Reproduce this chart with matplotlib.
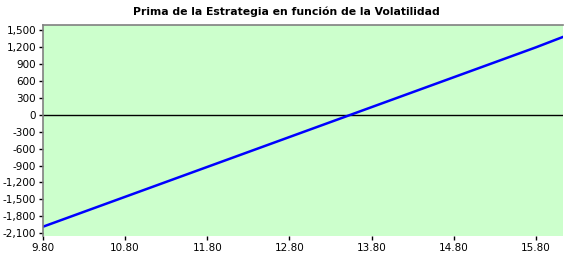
import matplotlib
matplotlib.use("Agg")
import matplotlib.pyplot as plt
import numpy as np

# volatility vs strategy premium
volatilidad = [9.80, 10.30, 10.80, 11.30, 11.80, 12.30, 12.80, 13.30,
               13.80, 14.30, 14.80, 15.30, 15.80, 16.13]
prima = [-1985, -1720, -1455, -1190, -925, -660, -395, -130,
         135, 400, 665, 930, 1195, 1380]

x_ticks = [9.8, 10.8, 11.8, 12.8, 13.8, 14.8, 15.8]
y_ticks = list(range(-2100, 1501, 300))

plt.rcParams["font.family"] = ["DejaVu Sans"]

fig = plt.figure(figsize=(5.73, 2.64), dpi=100)
ax = fig.add_axes([0.075, 0.106, 0.9075, 0.799])
ax.set_facecolor("#CCFFCC")

ax.axhline(0, color="black", lw=1)
ax.plot(volatilidad, prima, color="#0000FF", lw=1.8)

ax.set_xlim(9.8, 16.13)
ax.set_ylim(-2150, 1590)
ax.set_xticks(x_ticks)
ax.set_xticklabels(["%.2f" % v for v in x_ticks])
ax.set_yticks(y_ticks)
ax.set_yticklabels(["{:,}".format(v) for v in y_ticks])
ax.tick_params(labelsize=7.5, length=3, width=1, direction="out", pad=2)

for s in ["right", "bottom"]:
    ax.spines[s].set_visible(False)
for s in ["top", "left"]:
    ax.spines[s].set_color("#808080")
    ax.spines[s].set_linewidth(1.2)

fig.suptitle("Prima de la Estrategia en función de la Volatilidad",
             fontsize=7.8, fontweight="bold", x=0.5, y=0.975)

fig.savefig("out.png", dpi=100)
